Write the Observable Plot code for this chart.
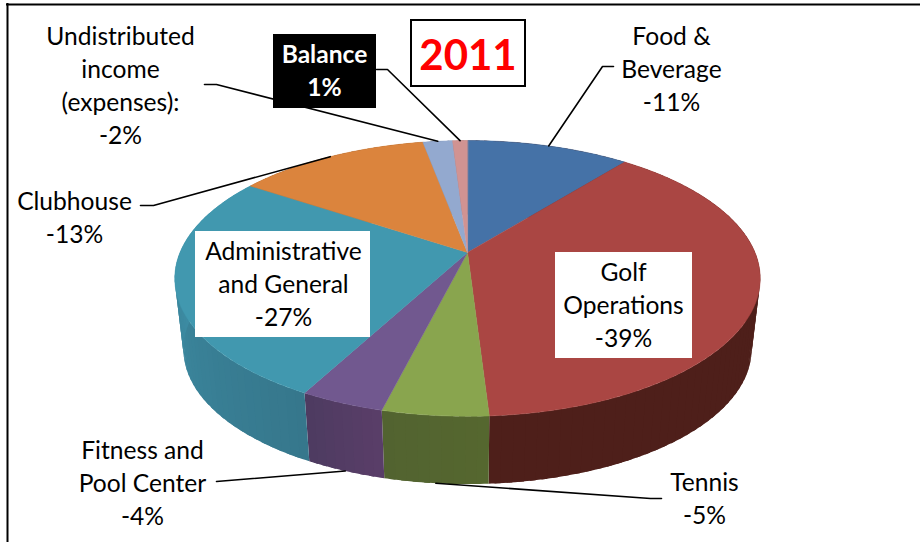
<!DOCTYPE html>
<html>
<head>
<meta charset="utf-8">
<script src="https://cdn.jsdelivr.net/npm/d3@7"></script>
<script src="https://cdn.jsdelivr.net/npm/@observablehq/plot@0.6"></script>
<style>
  html, body { margin: 0; padding: 0; background: #fff; }
  svg { display: block; }
</style>
</head>
<body>
<div id="chart"></div>
<script>
// Share of the 2011 budget by department, clockwise from twelve o'clock.
const categories = [
  "Food &\nBeverage",
  "Golf\nOperations",
  "Tennis",
  "Fitness and\nPool Center",
  "Administrative\nand General",
  "Clubhouse",
  "Undistributed\nincome\n(expenses):",
  "Balance"
];
const values = [-11, -39, -5, -4, -27, -13, -2, 1];
const topColors = ["#4572A7", "#AA4643", "#89A54E", "#71588F", "#4198AF", "#DB843D", "#93A9CF", "#D19392"];
// Rim tint of each wedge at its clockwise start and end.
const rimStart = ["#4e1f1a", "#4e1f1a", "#55672f", "#5a3e68", "#36778c", "#8a5226", "#5c6a82", "#83605c"];
const rimEnd = ["#4e1f1a", "#4e1f1a", "#526330", "#4d3b60", "#4096ae", "#8a5226", "#5c6a82", "#83605c"];

// Label placement: text centre, leader elbow points and optional box.
const labelX = [671, 623, 704, 142, 283, 74, 120, 324];
const labelY = [67, 303, 496.5, 481, 282, 215.5, 83.5, 68.5];
const elbows = [
  [[613, 66], [602, 66]],
  [],
  [[661, 498], [650, 498]],
  [[216, 481]],
  [],
  [[140, 205], [153, 205]],
  [[204, 84], [216, 84]],
  [[376, 69], [387, 69]]
];
const labelBoxes = [
  {x1: 195, x2: 370, y1: 231, y2: 337, fill: "white"},
  {x1: 555, x2: 692, y1: 252, y2: 358, fill: "white"},
  {x1: 273, x2: 376, y1: 34, y2: 108, fill: "black"}
];

// Perspective disc: a circle tilted away from the viewer, so the far half is foreshortened.
const tilt = 0.188;
const topFace = {cx: 467, cy: 252, rx: 287.5, ry: 133};
const baseFace = {cx: 467, cy: 323.5, rx: 279, ry: 130};
const project = (deg, face) => {
  const a = deg * Math.PI / 180;
  const w = 1 + tilt * Math.cos(a);
  return {x: face.cx + face.rx * Math.sin(a) / w, y: face.cy - face.ry * Math.cos(a) / w};
};

const total = d3.sum(values, Math.abs);
let running = 0;
const slices = values.map((v, i) => {
  const start = running / total * 360;
  running += Math.abs(v);
  return {i, start, end: running / total * 360, mid: (start + running / total * 360) / 2};
});

// Top wedges as closed outlines through the apex.
const wedgeRows = slices.flatMap(s => {
  const n = Math.max(2, Math.ceil((s.end - s.start) / 2));
  const rim = d3.range(n + 1).map(k => project(s.start + (s.end - s.start) * k / n, topFace));
  return [{x: topFace.cx, y: topFace.cy}, ...rim].map(p => ({...p, id: s.i, color: topColors[s.i]}));
});

// Rim wall as narrow quads so the tint can drift along each wedge; each quad
// runs a little under the next one to keep the joins from showing.
const wallRows = slices.flatMap(s => {
  const n = Math.max(2, Math.ceil((s.end - s.start) / 2));
  const step = (s.end - s.start) / n;
  const tint = d3.interpolateRgb(rimStart[s.i], rimEnd[s.i]);
  return d3.range(n).flatMap(k => {
    const a = s.start + step * k;
    const b = a + step * (k < n - 1 ? 1.5 : 1);
    const color = tint((k + 0.5) / n);
    const arc = d3.range(5).map(j => a + (b - a) * j / 4);
    return [...arc.map(d => project(d, topFace)), ...arc.reverse().map(d => project(d, baseFace))]
      .map(p => ({...p, id: `${s.i}-${k}`, color}));
  });
});

// Leader lines end at each wedge's mid-angle, on the base edge for wedges facing the viewer.
const leaderRows = slices.flatMap(s => {
  if (!elbows[s.i].length) return [];
  const front = s.mid > 90 && s.mid < 270;
  const tip = project(s.mid, front ? baseFace : topFace);
  return [...elbows[s.i].map(([x, y]) => ({x, y})), tip].map(p => ({...p, id: s.i}));
});

const labels = categories.map((name, i) => ({
  text: `${name}\n${values[i]}%`,
  x: labelX[i],
  y: labelY[i],
  fill: values[i] > 0 ? "white" : "black",
  positive: values[i] > 0
}));

const labelStyle = {
  x: "x", y: "y", text: "text", fill: "fill",
  fontSize: 24.6, lineHeight: 1.34, textAnchor: "middle", lineAnchor: "middle"
};

const chart = Plot.plot({
  width: 920,
  height: 542,
  margin: 0,
  x: {domain: [0, 920], range: [0, 920], axis: null},
  y: {domain: [0, 542], range: [0, 542], axis: null},
  color: {type: "identity"},
  style: {background: "white", fontFamily: "Lato, sans-serif"},
  marks: [
    Plot.ruleY([4], {x1: 6, x2: 920, stroke: "black", strokeWidth: 2}),
    Plot.ruleX([7], {y1: 3, y2: 542, stroke: "black", strokeWidth: 2}),
    Plot.line(wallRows, {x: "x", y: "y", z: "id", fill: "color", stroke: "none", curve: "linear-closed"}),
    Plot.line(wedgeRows, {x: "x", y: "y", z: "id", fill: "color", stroke: "color", strokeWidth: 0.5, curve: "linear-closed"}),
    Plot.line(leaderRows, {x: "x", y: "y", z: "id", stroke: "black", strokeWidth: 1.6, curve: "linear"}),
    Plot.rect(labelBoxes, {x1: "x1", x2: "x2", y1: "y1", y2: "y2", fill: "fill"}),
    Plot.text(labels.filter(d => !d.positive), labelStyle),
    Plot.text(labels.filter(d => d.positive), {...labelStyle, fontWeight: "bold"}),
    Plot.rect([{x1: 411, x2: 525, y1: 20, y2: 86}], {
      x1: "x1", x2: "x2", y1: "y1", y2: "y2", fill: "white", stroke: "black", strokeWidth: 2
    }),
    Plot.text(["2011"], {
      x: [467.5], y: [56], fill: "#ff0000", fontWeight: "bold", fontSize: 42, textAnchor: "middle"
    })
  ]
});
document.getElementById("chart").append(chart);
</script>
</body>
</html>
